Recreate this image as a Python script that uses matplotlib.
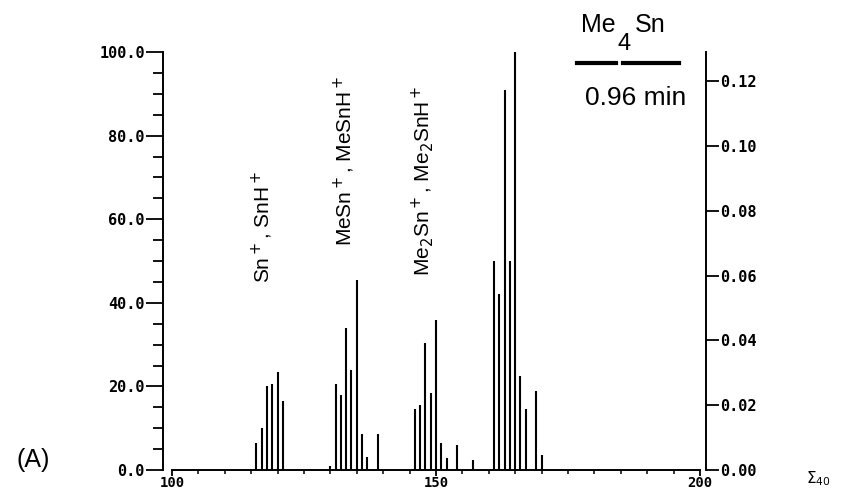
import matplotlib
matplotlib.use('Agg')
import matplotlib.pyplot as plt
from matplotlib.ticker import MultipleLocator, FixedLocator, FormatStrFormatter

# Espectro de masas de Me4Sn (intensidad relativa, %)
sn_mz = [116, 117, 118, 119, 120, 121]
sn_int = [6.5, 10, 20, 20.5, 23.5, 16.5]

mesn_mz = [130, 131, 132, 133, 134, 135, 136, 137, 139]
mesn_int = [1, 20.5, 18, 34, 24, 45.5, 8.5, 3.2, 8.5]

me2sn_mz = [146, 147, 148, 149, 150, 151, 152, 154, 157]
me2sn_int = [14.5, 15.5, 30.5, 18.5, 36, 6.5, 2.8, 6, 2.5]

me3sn_mz = [161, 162, 163, 164, 165, 166, 167, 169, 170]
me3sn_int = [50, 42, 91, 50, 100, 22.5, 14.5, 19, 3.5]

full_scale = 0.129   # escala absoluta del eje derecho al 100 %
left_ticks = [0, 20, 40, 60, 80, 100]
right_ticks = [0.00, 0.02, 0.04, 0.06, 0.08, 0.10, 0.12]
x_ticks = [100, 150, 200]

W, H = 843, 492
fig = plt.figure(figsize=(W / 100, H / 100), dpi=100)
ax = fig.add_axes([163 / W, (H - 470) / H, (706 - 163) / W, (470 - 52) / H])

for m, i in [(sn_mz, sn_int), (mesn_mz, mesn_int), (me2sn_mz, me2sn_int), (me3sn_mz, me3sn_int)]:
    ax.vlines(m, 0, i, colors='black', linewidth=1.5)

ax.set_xlim(98.3, 201.14)
ax.set_ylim(0, 100)

ax.spines['top'].set_visible(False)
ax.spines['right'].set_visible(False)
ax.spines['left'].set_bounds(0, 100)
ax.spines['bottom'].set_bounds(100, 200)
ax.spines['left'].set_linewidth(1.4)
ax.spines['bottom'].set_linewidth(1.4)

mono = {'family': 'DejaVu Sans Mono', 'weight': 'bold'}

ax.yaxis.set_major_locator(FixedLocator(left_ticks))
ax.yaxis.set_minor_locator(MultipleLocator(5))
ax.yaxis.set_major_formatter(FormatStrFormatter('%.1f'))
ax.tick_params(axis='y', which='major', length=12, width=1.3, pad=1)
ax.tick_params(axis='y', which='minor', length=7, width=1.3)

ax.xaxis.set_major_locator(FixedLocator(x_ticks))
ax.xaxis.set_minor_locator(MultipleLocator(5))
ax.tick_params(axis='x', which='major', length=4, width=1.3, pad=0)
ax.tick_params(axis='x', which='minor', length=3, width=1.1)

for lab in ax.get_yticklabels():
    lab.set_fontproperties(mono)
    lab.set_fontsize(11)
for lab in ax.get_xticklabels():
    lab.set_fontproperties(mono)
    lab.set_fontsize(10)

ax2 = ax.twinx()
ax2.set_ylim(0, full_scale)
for s in ['top', 'left', 'bottom']:
    ax2.spines[s].set_visible(False)
ax2.spines['right'].set_bounds(0, full_scale)
ax2.spines['right'].set_linewidth(1.4)
ax2.yaxis.set_major_locator(FixedLocator(right_ticks))
ax2.yaxis.set_major_formatter(FormatStrFormatter('%.2f'))
ax2.tick_params(axis='y', length=9, width=1.3, pad=1)
for lab in ax2.get_yticklabels():
    lab.set_fontproperties(mono)
    lab.set_fontsize(11)

sans = 'Liberation Sans'

def fx(px):
    return px / W

def fy(py):
    return 1 - py / H

# etiquetas de los grupos de iones
fig.text(fx(262), fy(283), r'Sn$^+$, SnH$^+$', rotation=90, ha='center', va='bottom',
         family=sans, fontsize=15)
fig.text(fx(344), fy(246), r'MeSn$^+$, MeSnH$^+$', rotation=90, ha='center', va='bottom',
         family=sans, fontsize=15)
fig.text(fx(423), fy(276), r'Me$_2$Sn$^+$, Me$_2$SnH$^+$', rotation=90, ha='center', va='bottom',
         family=sans, fontsize=15)

# titulo Me4Sn y tiempo de retencion
fig.text(fx(598), fy(25), 'Me', ha='center', va='center', family=sans, fontsize=18)
fig.text(fx(624), fy(44), '4', ha='center', va='center', family=sans, fontsize=17)
fig.text(fx(650), fy(25), 'Sn', ha='center', va='center', family=sans, fontsize=18)
fig.add_artist(plt.Line2D([fx(577), fx(616)], [fy(63), fy(63)], color='black', linewidth=3))
fig.add_artist(plt.Line2D([fx(623), fx(679)], [fy(63), fy(63)], color='black', linewidth=3))
fig.text(fx(636), fy(98), '0.96 min', ha='center', va='center', family=sans, fontsize=19)

fig.text(fx(33), fy(460), '(A)', ha='center', va='center', family=sans, fontsize=18)
fig.text(fx(818), fy(479), r'$\Sigma_{40}$', ha='center', va='center', fontsize=11)

fig.savefig('out.png', dpi=100)
